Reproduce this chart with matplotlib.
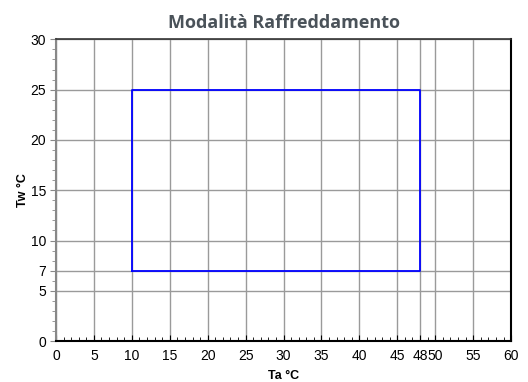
import matplotlib
matplotlib.use("Agg")
import matplotlib.pyplot as plt
from matplotlib.ticker import MultipleLocator

# operating envelope, cooling mode
ta = [10, 48, 48, 10, 10]
tw = [7, 7, 25, 25, 7]

xticks = [0, 5, 10, 15, 20, 25, 30, 35, 40, 45, 48, 50, 55, 60]
yticks = [0, 5, 7, 10, 15, 20, 25, 30]

plt.rcParams['font.family'] = ['Liberation Sans', 'DejaVu Sans']

fig = plt.figure(figsize=(5.28, 3.82), dpi=100)
ax = fig.add_axes([0.106, 0.107, 0.862, 0.79])

ax.set_xlim(0, 60)
ax.set_ylim(0, 30)
ax.set_xticks(xticks)
ax.set_yticks(yticks)
ax.xaxis.set_minor_locator(MultipleLocator(1))
ax.yaxis.set_minor_locator(MultipleLocator(1))
ax.grid(True, which='major', color='#9a9a9a', linewidth=1.0)
ax.set_axisbelow(True)

ax.plot(ta, tw, color='#0000ff', linewidth=1.3)

ax.tick_params(axis='x', which='both', direction='in', length=3, color='black', labelsize=10, pad=6)
ax.tick_params(axis='x', which='major', length=4)
ax.tick_params(axis='y', which='both', direction='out', length=3, color='#888888', labelsize=10, pad=3)
ax.tick_params(axis='y', which='major', length=4)

ax.spines['left'].set_color('#888888')
ax.spines['left'].set_linewidth(1.5)
ax.spines['bottom'].set_color('black')
ax.spines['bottom'].set_linewidth(1.5)
ax.spines['right'].set_color('black')
ax.spines['right'].set_linewidth(1.5)
ax.spines['top'].set_color('#333333')
ax.spines['top'].set_linewidth(1.2)

ax.set_xlabel('Ta °C', fontsize=9, fontweight='bold', labelpad=5)
ax.set_ylabel('Tw °C', fontsize=9, fontweight='bold', labelpad=1)
ax.set_title('Modalità Raffreddamento', fontsize=13, fontweight='bold',
             color='#4a5259', family=['Open Sans', 'DejaVu Sans'], pad=8)

fig.savefig('out.png', dpi=100)
